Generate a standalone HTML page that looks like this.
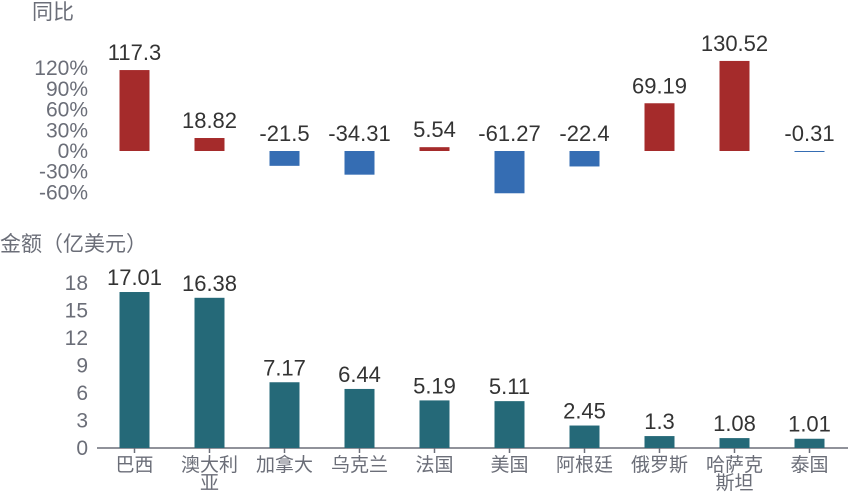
<!DOCTYPE html>
<html><head><meta charset="utf-8"><style>
body{margin:0;background:#fff}
svg{display:block;font-family:"Liberation Sans","Noto Sans CJK SC",sans-serif}
</style></head><body>
<svg id="c" width="848" height="492" viewBox="0 0 848 492">
<text x="53" y="19" font-size="21" fill="#6b6e78" text-anchor="middle">同比</text>
<text x="0" y="251" font-size="21" fill="#6b6e78">金额（亿美元）</text>
<g id="g"></g>
</svg>
<script>
const categories=["巴西","澳大利亚","加拿大","乌克兰","法国","美国","阿根廷","俄罗斯","哈萨克斯坦","泰国"];
const catLines=[["巴西"],["澳大利","亚"],["加拿大"],["乌克兰"],["法国"],["美国"],["阿根廷"],["俄罗斯"],["哈萨克","斯坦"],["泰国"]];
const yoyValues=[117.3,18.82,-21.5,-34.31,5.54,-61.27,-22.4,69.19,130.52,-0.31];
const yoyLabels=["117.3","18.82","-21.5","-34.31","5.54","-61.27","-22.4","69.19","130.52","-0.31"];
const amountValues=[17.01,16.38,7.17,6.44,5.19,5.11,2.45,1.3,1.08,1.01];
const amountLabels=["17.01","16.38","7.17","6.44","5.19","5.11","2.45","1.3","1.08","1.01"];
const yoyTicks=[120,90,60,30,0,-30,-60];
const amountTicks=[0,3,6,9,12,15,18];
const NS="http://www.w3.org/2000/svg";
const g=document.getElementById('g');
function mk(t,a,txt){const e=document.createElementNS(NS,t);for(const k in a)e.setAttribute(k,a[k]);if(txt!==undefined)e.textContent=txt;g.appendChild(e);return e;}
const x0=97,step=75,bw=30;
const xc=i=>x0+step*(i+0.5);
const yTop=v=>151-v*0.69;
const yBot=v=>448-v*9.17;
yoyTicks.forEach(t=>{
 const e=mk('text',{x:88,y:yTop(t)+7,'font-size':21,fill:'#6b6e78','text-anchor':'end'},t+'%');
 
 
});
amountTicks.forEach(t=>{
 const e=mk('text',{x:88,y:yBot(t)+7,'font-size':21,fill:'#6b6e78','text-anchor':'end'},String(t));
 
 
});
const ax=mk('line',{x1:x0,x2:848,y1:448,y2:448,stroke:'#6b6e78','stroke-width':1.5});


yoyValues.forEach((v,i)=>{
 const y1=yTop(Math.max(v,0)),h=Math.max(Math.abs(v)*0.69,1);
 const r=mk('rect',{x:xc(i)-bw/2,y:y1,width:bw,height:h,fill:v>=0?'#a52b2b':'#356db3'});
 
 
 const ly=v>=0?yTop(v)-10:yTop(0)-10;
 const l=mk('text',{x:xc(i),y:ly,'font-size':22,fill:'#333','text-anchor':'middle'},yoyLabels[i]);
 
 
});
amountValues.forEach((v,i)=>{
 const r=mk('rect',{x:xc(i)-bw/2,y:yBot(v),width:bw,height:v*9.17,fill:'#256978'});
 
 
 const l=mk('text',{x:xc(i),y:yBot(v)-7,'font-size':22,fill:'#333','text-anchor':'middle'},amountLabels[i]);
 
 
 const tk=mk('line',{x1:xc(i),x2:xc(i),y1:448,y2:453,stroke:'#6b6e78','stroke-width':1.5});
 
 
 catLines[i].forEach((s,j)=>{
  const c=mk('text',{x:xc(i),y:471+j*18,'font-size':19,fill:'#6b6e78','text-anchor':'middle'},s);
  
  
 });
});
</script>
</body></html>
